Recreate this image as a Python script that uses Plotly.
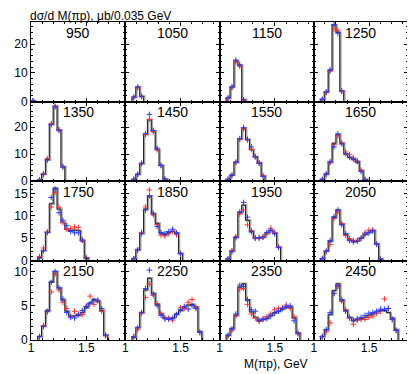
import numpy as np
import plotly.graph_objects as go
from plotly.subplots import make_subplots

# bin width (GeV) and lower edge of the first bin
BIN = 0.035
X0 = 1.06

w_labels = [950, 1050, 1150, 1250,
            1350, 1450, 1550, 1650,
            1750, 1850, 1950, 2050,
            2150, 2250, 2350, 2450]

# histogram (model), red points, blue points per W bin
h950 = [0.3]
r950 = [0.2]
b950 = [0.3]

h1050 = [1.5, 5.0, 1.8]
r1050 = [1.4, 4.8, 1.7]
b1050 = [1.5, 5.1, 1.8]

h1150 = [1.2, 5.0, 14.1, 12.6, 0.6]
r1150 = [1.0, 4.8, 13.8, 12.3, 0.5]
b1150 = [1.3, 5.1, 14.4, 12.8, 0.6]

h1250 = [0.7, 3.3, 10.9, 26.7, 24.1, 3.6]
r1250 = [0.6, 3.1, 10.6, 25.3, 24.8, 3.4]
b1250 = [0.8, 3.4, 11.0, 26.8, 23.8, 3.7]

h1350 = [0.4, 2.6, 8.0, 21.1, 27.8, 18.9, 5.3]
r1350 = [0.4, 2.7, 8.3, 21.3, 27.9, 19.1, 5.4]
b1350 = [0.4, 2.5, 7.8, 21.0, 27.6, 18.9, 5.2]

h1450 = [0.6, 2.5, 6.5, 17.4, 22.8, 18.5, 11.7, 5.8, 0.7]
r1450 = [0.6, 2.5, 6.4, 17.3, 22.9, 18.4, 11.6, 5.8, 0.7]
b1450 = [0.6, 2.4, 6.6, 17.6, 24.8, 18.8, 12.2, 5.8, 0.7]

h1550 = [0.6, 2.2, 7.0, 15.6, 19.5, 15.4, 11.7, 9.0, 6.8, 1.9]
r1550 = [0.6, 2.2, 6.9, 15.5, 19.4, 15.3, 11.8, 9.1, 6.8, 1.9]
b1550 = [0.6, 2.1, 7.0, 15.8, 19.9, 15.5, 12.7, 9.0, 6.6, 1.7]

h1650 = [0.6, 2.6, 7.0, 14.0, 17.3, 14.0, 10.0, 8.8, 8.0, 7.0, 3.8, 0.6]
r1650 = [0.5, 2.4, 6.8, 13.5, 16.8, 14.2, 10.8, 9.8, 8.6, 7.5, 4.0, 0.6]
b1650 = [0.6, 2.6, 7.2, 12.7, 17.5, 13.8, 10.2, 8.9, 8.2, 7.2, 3.5, 0.5]

h1750 = [0.6, 2.2, 6.3, 12.7, 16.2, 11.5, 8.5, 7.0, 6.7, 6.8, 6.7, 4.4, 0.5]
r1750 = [0.9, 2.8, 6.4, 12.0, 15.2, 11.9, 8.5, 7.0, 7.2, 7.5, 7.4, 4.5, 0.7]
b1750 = [0.6, 2.2, 6.3, 14.1, 16.0, 10.7, 9.0, 7.8, 6.5, 6.2, 6.2, 4.6, 0.5]

h1850 = [0.4, 2.4, 6.1, 11.5, 14.4, 10.4, 8.3, 6.1, 5.8, 6.3, 6.5, 6.1, 1.6]
r1850 = [0.4, 2.3, 6.3, 12.0, 15.8, 10.2, 8.0, 5.7, 5.5, 6.0, 6.6, 5.8, 1.6]
b1850 = [0.4, 2.4, 6.0, 11.3, 14.5, 10.6, 7.6, 6.3, 6.0, 6.5, 7.0, 6.2, 1.5]

h1950 = [0.4, 2.1, 5.2, 10.7, 12.4, 9.0, 6.5, 5.0, 5.0, 5.2, 6.1, 6.7, 6.1, 3.0]
r1950 = [0.3, 2.2, 5.3, 10.4, 11.3, 8.0, 6.7, 5.1, 5.0, 5.3, 6.0, 7.2, 6.3, 3.1]
b1950 = [0.4, 2.0, 5.1, 10.9, 13.0, 9.7, 6.4, 5.0, 5.1, 5.2, 6.3, 6.8, 6.0, 2.9]

h2050 = [0.4, 2.1, 4.3, 9.6, 11.3, 8.1, 5.9, 4.6, 4.2, 4.4, 5.0, 5.8, 6.3, 6.7, 3.7, 0.3]
r2050 = [0.4, 2.0, 3.6, 9.4, 10.8, 8.3, 5.6, 4.9, 4.5, 4.5, 5.0, 6.2, 6.8, 6.8, 3.6, 0.3]
b2050 = [0.4, 2.1, 4.5, 9.8, 11.3, 8.0, 6.0, 4.5, 4.2, 4.3, 5.0, 5.9, 6.2, 6.6, 3.7, 0.3]

h2150 = [0.5, 2.0, 4.3, 8.5, 10.0, 7.6, 5.8, 4.2, 3.5, 3.5, 3.6, 4.0, 4.7, 5.4, 5.9, 5.6, 4.3, 0.7]
r2150 = [0.5, 2.1, 4.1, 7.0, 9.6, 7.3, 5.5, 4.6, 3.4, 4.2, 3.8, 3.7, 4.9, 6.4, 5.2, 5.7, 4.2, 0.6]
b2150 = [0.5, 2.0, 4.2, 8.4, 10.0, 7.6, 6.0, 4.0, 3.3, 3.2, 3.7, 4.3, 4.9, 5.3, 5.8, 5.8, 4.6, 0.7]

h2250 = [0.4, 1.8, 4.0, 7.3, 9.0, 6.8, 5.2, 3.8, 3.2, 3.1, 3.2, 3.8, 4.3, 4.8, 5.1, 5.2, 4.8, 1.2]
r2250 = [0.5, 1.5, 3.9, 6.2, 8.2, 6.5, 5.3, 3.9, 3.2, 3.2, 2.9, 3.7, 4.7, 4.6, 5.5, 5.9, 4.8, 1.1]
b2250 = [0.5, 1.8, 4.0, 7.5, 10.2, 6.7, 5.0, 3.6, 3.1, 3.0, 3.2, 3.7, 4.4, 4.9, 4.5, 5.0, 4.6, 1.1]

h2350 = [0.7, 1.7, 3.6, 7.7, 8.2, 5.8, 4.1, 3.3, 2.8, 3.0, 3.2, 3.6, 4.0, 4.2, 4.5, 4.8, 4.8, 3.2, 1.0]
r2350 = [0.6, 1.4, 3.5, 7.4, 7.5, 5.2, 3.8, 3.2, 2.7, 3.1, 3.4, 3.8, 4.4, 4.6, 4.7, 5.1, 4.6, 3.4, 0.9]
b2350 = [0.7, 1.6, 3.8, 8.0, 7.8, 5.9, 4.4, 4.2, 2.9, 3.0, 3.1, 3.5, 3.9, 4.2, 4.6, 4.9, 5.0, 2.8, 1.0]

h2450 = [0.5, 1.5, 3.7, 7.2, 8.2, 5.8, 4.3, 3.3, 2.8, 3.0, 3.1, 3.3, 3.6, 3.8, 4.1, 4.3, 4.3, 4.0, 3.2, 1.5]
r2450 = [0.5, 1.2, 2.5, 6.8, 7.8, 5.6, 4.4, 3.2, 2.3, 2.9, 3.0, 3.0, 3.3, 3.5, 3.9, 4.2, 6.0, 4.6, 3.0, 1.4]
b2450 = [0.5, 1.5, 4.0, 6.8, 7.9, 5.9, 4.2, 3.3, 2.9, 3.1, 3.3, 3.6, 3.9, 4.0, 4.2, 4.5, 4.5, 4.6, 3.0, 1.4]

panels = {
    950: (h950, r950, b950), 1050: (h1050, r1050, b1050),
    1150: (h1150, r1150, b1150), 1250: (h1250, r1250, b1250),
    1350: (h1350, r1350, b1350), 1450: (h1450, r1450, b1450),
    1550: (h1550, r1550, b1550), 1650: (h1650, r1650, b1650),
    1750: (h1750, r1750, b1750), 1850: (h1850, r1850, b1850),
    1950: (h1950, r1950, b1950), 2050: (h2050, r2050, b2050),
    2150: (h2150, r2150, b2150), 2250: (h2250, r2250, b2250),
    2350: (h2350, r2350, b2350), 2450: (h2450, r2450, b2450),
}
first_edge = {950: 1.0}

row_ymax = [27.7, 29.6, 17.8, 11.6]
row_dtick = [10, 10, 5, 5]
row_minor = [2, 2, 1, 1]

FONT = "Liberation Sans, Arial, sans-serif"

fig = make_subplots(rows=4, cols=4, shared_xaxes=True, shared_yaxes='rows',
                    horizontal_spacing=0, vertical_spacing=0)

for i, w in enumerate(w_labels):
    r, c = i // 4 + 1, i % 4 + 1
    hist, red, blue = panels[w]
    x0 = first_edge.get(w, X0)
    edges = x0 + BIN * np.arange(len(hist) + 1)
    centers = edges[:-1] + BIN / 2
    hx = np.concatenate([[edges[0]], edges])
    hy = np.concatenate([[0], hist, [0]])

    fig.add_trace(go.Scatter(x=hx + 0.006, y=hy, mode='lines', line_shape='hv',
                             line=dict(color='#a8a8a8', width=2.4),
                             showlegend=False, hoverinfo='skip'), row=r, col=c)
    fig.add_trace(go.Scatter(x=hx, y=hy, mode='lines', line_shape='hv',
                             line=dict(color='#222222', width=1),
                             showlegend=False), row=r, col=c)
    fig.add_trace(go.Scatter(x=centers, y=red, mode='markers',
                             marker=dict(symbol='cross-thin', size=4,
                                         line=dict(width=1, color='#ff3030')),
                             showlegend=False), row=r, col=c)
    fig.add_trace(go.Scatter(x=centers, y=blue, mode='markers',
                             marker=dict(symbol='cross-thin', size=4,
                                         line=dict(width=1, color='#2a3cff')),
                             showlegend=False), row=r, col=c)
    fig.add_annotation(text=str(w), xref='x domain', yref='y domain',
                       x=0.5, y=0.99, xanchor='center', yanchor='top',
                       showarrow=False, font=dict(family=FONT, size=14, color='black'),
                       row=r, col=c)

fig.update_xaxes(range=[1.0, 1.85], tick0=0, dtick=0.5,
                 showline=True, linecolor='black', linewidth=1, mirror='ticks',
                 ticks='inside', ticklen=4, tickcolor='black', ticklabelstandoff=-3,
                 minor=dict(tick0=0, dtick=0.1, ticks='inside', ticklen=2, tickcolor='black'),
                 showgrid=False, zeroline=False,
                 tickfont=dict(family=FONT, size=12, color='black'))

for k in range(4):
    fig.update_yaxes(range=[0, row_ymax[k]], tick0=0, dtick=row_dtick[k],
                     minor=dict(tick0=0, dtick=row_minor[k], ticks='inside',
                                ticklen=2, tickcolor='black'),
                     row=k + 1)

fig.update_yaxes(showline=True, linecolor='black', linewidth=1, mirror='ticks',
                 ticks='inside', ticklen=4, tickcolor='black',
                 showgrid=False, zeroline=False,
                 tickfont=dict(family=FONT, size=12, color='black'))

# figure is 366 px tall with a 14 px top margin and 318 px of plot
fig.add_annotation(text="dσ/d M(πp), μb/0.035 GeV", xref='paper', yref='paper',
                   x=-0.005, y=1 + 14 / 318, xanchor='left', yanchor='top',
                   borderpad=0, showarrow=False,
                   font=dict(family=FONT, size=12, color='black'))
fig.add_annotation(text="M(πp), GeV", xref='paper', yref='paper',
                   x=0.65, y=0.0, xanchor='center', yanchor='top', yshift=-15,
                   showarrow=False, font=dict(family=FONT, size=12, color='black'))

# page body has an 8px margin, so the figure is a bit smaller than the window
fig.update_layout(width=407, height=366,
                  margin=dict(l=20, r=6, t=14, b=34),
                  plot_bgcolor='white', paper_bgcolor='white')

fig.write_html("out.html")
